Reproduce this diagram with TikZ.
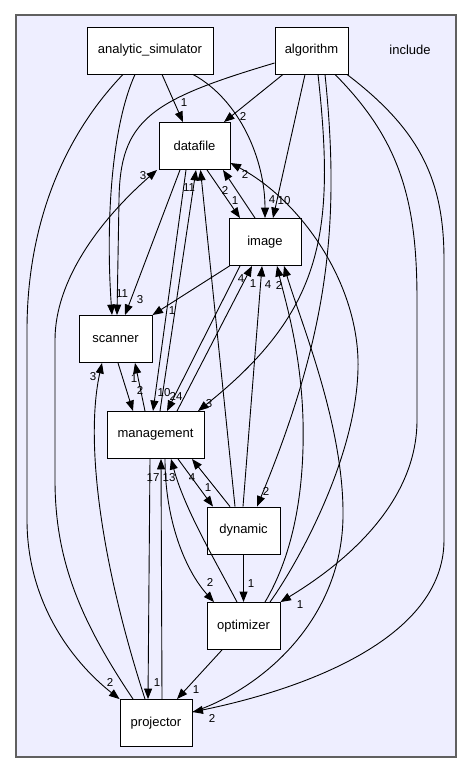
\documentclass[tikz,border=0pt]{standalone}
\usepackage{fontspec}
\setmainfont{Liberation Sans}
\usetikzlibrary{arrows.meta,positioning,calc}
\definecolor{clusterfill}{RGB}{238,238,255}
\definecolor{clusterline}{RGB}{96,96,96}

\begin{document}
\begin{tikzpicture}[x=1pt,y=-1pt,
  dirbox/.style={draw=black,fill=white,line width=0.9pt,minimum height=47pt,inner sep=0pt,font=\fontsize{13}{15}\selectfont},
  dep/.style={-{Triangle[length=10.5pt,width=8pt]},line width=0.9pt},
  lbl/.style={inner sep=0pt,font=\fontsize{11.5}{13}\selectfont}]
  \useasboundingbox (0,0) rectangle (472,773);

  % Cluster
  \draw[fill=clusterfill,draw=clusterline,line width=1.3pt] (16,15) rectangle (456,757);
  \node[font=\fontsize{13}{15}\selectfont] (include) at (410,50) {include};

  % Directories
  \node[dirbox,minimum width=126pt] (analytic) at (150,50.5) {analytic\_simulator};
  \node[dirbox,minimum width=73pt] (algorithm) at (311.5,50.5) {algorithm};
  \node[dirbox,minimum width=71pt] (datafile) at (194.5,146) {datafile};
  \node[dirbox,minimum width=72pt] (image) at (265,242) {image};
  \node[dirbox,minimum width=73pt] (scanner) at (115.5,339) {scanner};
  \node[dirbox,minimum width=97pt] (management) at (155.5,435) {management};
  \node[dirbox,minimum width=73pt] (dynamic) at (243.5,530.5) {dynamic};
  \node[dirbox,minimum width=73pt] (optimizer) at (243.5,626) {optimizer};
  \node[dirbox,minimum width=72pt] (projector) at (156,723) {projector};

  % analytic_simulator
  \draw[dep] ([xshift=12pt]analytic.south) -- ([xshift=-11.5pt]datafile.north);
  \draw[dep] ([xshift=43pt]analytic.south) .. controls (240,100) and (265,160) .. (image.north);
  \draw[dep] ([xshift=-15pt]analytic.south) .. controls (110,130) and (106,230) .. ([xshift=-3.5pt]scanner.north);
  \draw[dep] ([xshift=-27pt]analytic.south) .. controls (60,140) and (27,230) .. (27,330) -- (27,520) .. controls (27,600) and (70,660) .. (projector.north west);
  \node[lbl] (l1) at (184,103) {1};
  \node[lbl] (l2) at (272,200) {4};
  \node[lbl] (l3) at (110,682) {2};

  % algorithm
  \draw[dep] ([xshift=-28.5pt]algorithm.south) -- ([xshift=29.5pt]datafile.north);
  \draw[dep] ([xshift=-6.5pt]algorithm.south) -- ([xshift=8pt]image.north);
  \draw[dep] ([yshift=-12.5pt]algorithm.west) .. controls (150,100) and (120,120) .. (119,200) -- ([xshift=1.5pt]scanner.north);
  \draw[dep] ([xshift=6.5pt]algorithm.south) .. controls (335,230) and (325,310) .. ([xshift=42.5pt]management.north);
  \draw[dep] ([xshift=13.5pt]algorithm.south) .. controls (340,220) and (330,330) .. ([xshift=13.5pt]dynamic.north);
  \draw[dep] ([xshift=23.5pt]algorithm.south) .. controls (400,140) and (417,200) .. (417,300) -- (417,420) .. controls (417,500) and (350,560) .. (optimizer.north east);
  \draw[dep] ([xshift=35.5pt]algorithm.south) .. controls (420,130) and (444,180) .. (444,260) -- (444,540) .. controls (444,640) and (300,690) .. ([yshift=11pt]projector.east);
  \node[lbl] (l4) at (243,116) {2};
  \node[lbl] (l5) at (284,201) {10};
  \node[lbl] (l6) at (122,294) {11};
  \node[lbl] (l7) at (209,404) {3};
  \node[lbl] (l8) at (266,491) {2};
  \node[lbl] (l9) at (300,605) {1};
  \node[lbl] (l10) at (212,718) {2};

  % datafile and image
  \draw[dep] ([xshift=12.5pt]datafile.south) -- ([xshift=-25pt]image.north);
  \draw[dep] ([xshift=-10pt]image.north) -- ([xshift=28.5pt]datafile.south);
  \draw[dep] ([xshift=-14.5pt]datafile.south) -- ([xshift=9.5pt]scanner.north);
  \draw[dep] ([xshift=-8.5pt]datafile.south) -- ([xshift=-2.5pt]management.north);
  \draw[dep] ([xshift=4.5pt]management.north) -- ([xshift=1.5pt]datafile.south);
  \draw[dep] ([xshift=-8.5pt]dynamic.north) -- ([xshift=6pt]datafile.south);
  \draw[dep] ([xshift=26.5pt]optimizer.north) .. controls (300,560) and (360,450) .. (358,360) .. controls (356,280) and (300,200) .. ([yshift=-17pt]datafile.east);
  \draw[dep] ([xshift=1pt]image.south west) -- (scanner.north east);
  \draw[dep] ([xshift=-25pt]image.south) -- ([xshift=11.5pt]management.north);
  \draw[dep] ([xshift=21.5pt]management.north) -- ([xshift=-13pt]image.south);
  \draw[dep] ([xshift=-0.5pt]dynamic.north) -- ([xshift=-3pt]image.south);
  \draw[dep] ([xshift=21.5pt]optimizer.north) .. controls (290,560) and (305,500) .. (303,420) .. controls (301,350) and (285,300) .. ([xshift=12pt]image.south);
  \draw[dep] ([yshift=11pt]projector.east) .. controls (260,690) and (345,620) .. (343,510) .. controls (342,420) and (300,320) .. ([xshift=19pt]image.south);
  \node[lbl] (l11) at (235,201) {1};
  \node[lbl] (l12) at (225,190) {2};
  \node[lbl] (l13) at (140,300) {3};
  \node[lbl] (l14) at (164,393) {10};
  \node[lbl] (l15) at (189,188) {11};
  \node[lbl] (l16) at (245,174) {2};
  \node[lbl] (l17) at (172,311) {1};
  \node[lbl] (l18) at (176,396) {24};
  \node[lbl] (l19) at (241,279) {4};
  \node[lbl] (l20) at (253,284) {1};
  \node[lbl] (l21) at (268,285) {4};
  \node[lbl] (l22) at (279,285) {2};

  % scanner and management
  \draw[dep] ([xshift=2.5pt]scanner.south) -- ([xshift=-22.5pt]management.north);
  \draw[dep] ([xshift=-10.5pt]management.north) -- ([xshift=19.5pt]scanner.south);
  \draw[dep] ([xshift=-11pt]projector.north) .. controls (100,560) and (85,440) .. ([xshift=-13.5pt]scanner.south);
  \draw[dep] ([xshift=-23pt]projector.north) .. controls (80,620) and (55,560) .. (55,480) -- (55,340) .. controls (55,280) and (100,220) .. ([xshift=-37.5pt]datafile.south);
  \node[lbl] (l23) at (134,379) {1};
  \node[lbl] (l24) at (140,390) {2};
  \node[lbl] (l25) at (93,377) {3};
  \node[lbl] (l26) at (143,176) {3};

  % management, dynamic, optimizer, projector
  \draw[dep] ([xshift=-5.5pt]management.south) -- ([xshift=-8pt]projector.north);
  \draw[dep] ([xshift=6pt]projector.north) -- ([xshift=5.5pt]management.south);
  \draw[dep] ([xshift=-6.5pt]optimizer.north) .. controls (215,560) and (185,510) .. ([xshift=15.5pt]management.south);
  \draw[dep] ([xshift=9.5pt]management.south) .. controls (165,520) and (185,570) .. ([xshift=-29.5pt]optimizer.north);
  \draw[dep] ([xshift=22.5pt]management.south) -- ([xshift=-30.5pt]dynamic.north);
  \draw[dep] ([xshift=-13.5pt]dynamic.north) -- ([xshift=36.5pt]management.south);
  \draw[dep] (dynamic.south) -- (optimizer.north);
  \draw[dep] ([xshift=-21.5pt]optimizer.south) -- ([xshift=21pt]projector.north);
  \node[lbl] (l27) at (157,683) {1};
  \node[lbl] (l28) at (153,478) {17};
  \node[lbl] (l29) at (169,478) {13};
  \node[lbl] (l30) at (210,582) {2};
  \node[lbl] (l31) at (208,488) {1};
  \node[lbl] (l32) at (192,478) {4};
  \node[lbl] (l33) at (251,584) {1};
  \node[lbl] (l34) at (196,690) {1};
\end{tikzpicture}
\end{document}
